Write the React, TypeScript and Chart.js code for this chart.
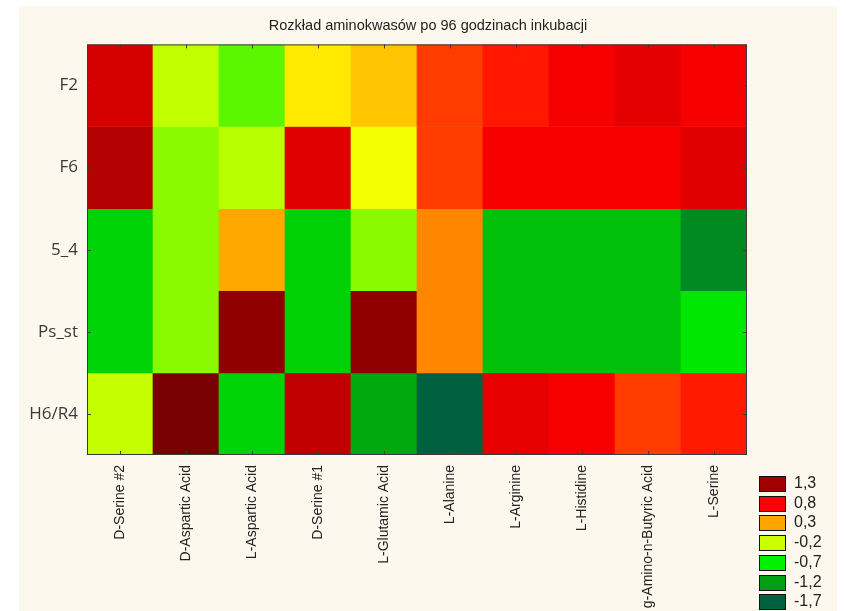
import React, { useEffect, useRef } from "react";
import { Chart, registerables } from "chart.js";

Chart.register(...registerables);

const TITLE = "Rozkład aminokwasów po 96 godzinach inkubacji";

const columns = [
  "D-Serine #2",
  "D-Aspartic Acid",
  "L-Aspartic Acid",
  "D-Serine #1",
  "L-Glutamic Acid",
  "L-Alanine",
  "L-Arginine",
  "L-Histidine",
  "g-Amino-n-Butyric Acid",
  "L-Serine",
];

const rows = ["F2", "F6", "5_4", "Ps_st", "H6/R4"];

const valuesF2 = [1.02, -0.23, -0.48, 0.11, 0.21, 0.62, 0.73, 0.84, 0.94, 0.84];
const valuesF6 = [1.19, -0.36, -0.25, 0.96, -0.02, 0.62, 0.84, 0.84, 0.84, 0.96];
const values5_4 = [-0.88, -0.36, 0.29, -0.9, -0.36, 0.39, -1.0, -1.0, -1.0, -1.37];
const valuesPs_st = [-0.88, -0.36, 1.47, -0.9, 1.47, 0.39, -1.0, -1.0, -1.0, -0.75];
const valuesH6R4 = [-0.22, 1.72, -0.88, 1.13, -1.14, -1.7, 0.92, 0.84, 0.62, 0.72];

const rowValues = [valuesF2, valuesF6, values5_4, valuesPs_st, valuesH6R4];

const legendLevels = [1.3, 0.8, 0.3, -0.2, -0.7, -1.2, -1.7];
const legendLabels = ["1,3", "0,8", "0,3", "-0,2", "-0,7", "-1,2", "-1,7"];

// colour map stops (value -> colour)
const stopValues = [-1.7, -1.2, -0.7, -0.2, 0.05, 0.3, 0.8, 1.3, 1.8];
const stopColors = [
  [0, 96, 64],
  [0, 160, 16],
  [0, 240, 0],
  [204, 255, 0],
  [255, 255, 0],
  [255, 165, 0],
  [255, 0, 0],
  [160, 0, 0],
  [112, 0, 0],
];

function colorFor(v: number): string {
  if (v <= stopValues[0]) return `rgb(${stopColors[0].join(",")})`;
  const n = stopValues.length;
  if (v >= stopValues[n - 1]) return `rgb(${stopColors[n - 1].join(",")})`;
  for (let i = 0; i < n - 1; i++) {
    const a = stopValues[i];
    const b = stopValues[i + 1];
    if (v >= a && v <= b) {
      const t = (v - a) / (b - a);
      const c = stopColors[i].map((c0, k) => Math.round(c0 + (stopColors[i + 1][k] - c0) * t));
      return `rgb(${c.join(",")})`;
    }
  }
  return "#000";
}

const framePlugin = {
  id: "heatFrame",
  afterDatasetsDraw(chart: any) {
    const { ctx, chartArea: a, scales } = chart;
    ctx.save();
    ctx.strokeStyle = "#3a3a3a";
    ctx.lineWidth = 1;
    ctx.strokeRect(a.left + 0.5, a.top + 0.5, a.right - a.left - 1, a.bottom - a.top - 1);
    const line = (x1: number, y1: number, x2: number, y2: number) => {
      ctx.beginPath();
      ctx.moveTo(x1, y1);
      ctx.lineTo(x2, y2);
      ctx.stroke();
    };
    columns.forEach((_, i) => {
      const px = Math.round(scales.x.getPixelForValue(i)) + 0.5;
      line(px, a.top, px, a.top + 4);
      line(px, a.bottom, px, a.bottom - 4);
    });
    rows.forEach((_, r) => {
      const py = Math.round(scales.y.getPixelForValue(rows.length - 0.5 - r)) + 0.5;
      line(a.left, py, a.left + 4, py);
      line(a.right, py, a.right - 4, py);
    });
    ctx.restore();
  },
};

export default function App() {
  const canvasRef = useRef<HTMLCanvasElement | null>(null);

  useEffect(() => {
    if (!canvasRef.current) return;
    const n = rows.length;
    const datasets = rows.map((name, r) => ({
      label: name,
      data: columns.map(() => [n - 1 - r, n - r]),
      backgroundColor: rowValues[r].map(colorFor),
      borderWidth: 0,
      barPercentage: 1,
      categoryPercentage: 1,
      grouped: false,
    }));
    const chart = new Chart(canvasRef.current, {
      type: "bar",
      data: { labels: columns, datasets: datasets as any },
      options: {
        animation: false,
        responsive: false,
        layout: { padding: { left: 0, right: 0, top: 0, bottom: 0 } },
        plugins: {
          legend: { display: false },
          tooltip: { enabled: false },
          title: {
            display: true,
            text: TITLE,
            color: "#222",
            font: { family: "'Liberation Sans', Arial, sans-serif", size: 14.5, weight: "normal" as any },
            padding: { top: 11, bottom: 10 },
          },
        },
        scales: {
          x: {
            type: "category",
            offset: true,
            grid: { display: false, drawTicks: false },
            border: { display: false },
            ticks: {
              autoSkip: false,
              maxRotation: 90,
              minRotation: 90,
              padding: 10,
              color: "#222",
              font: { family: "'Liberation Sans', Arial, sans-serif", size: 14 },
            },
            afterFit: (scale: any) => {
              scale.height = 156;
            },
          },
          y: {
            type: "linear",
            min: 0,
            max: rows.length,
            grid: { display: false, drawTicks: false },
            border: { display: false },
            afterBuildTicks: (scale: any) => {
              scale.ticks = rows.map((_, r) => ({ value: rows.length - 0.5 - r }));
            },
            ticks: {
              padding: 9,
              color: "#3a3a3a",
              font: { family: "'Open Sans', sans-serif", size: 17 },
              callback: (value: any) => {
                const idx = Math.round(rows.length - 0.5 - Number(value));
                return rows[idx] ?? "";
              },
            },
            afterFit: (scale: any) => {
              scale.width = 68;
            },
          },
          yRightSpace: {
            type: "linear",
            position: "right",
            display: true,
            min: 0,
            max: rows.length,
            grid: { display: false, drawTicks: false },
            border: { display: false },
            ticks: { display: false },
            afterFit: (scale: any) => {
              scale.width = 90;
            },
          },
        },
      },
      plugins: [framePlugin],
    });
    return () => chart.destroy();
  }, []);

  return (
    <div style={{ position: "absolute", left: 0, top: 0, width: 846, height: 611, background: "#ffffff", overflow: "hidden" }}>
      <div style={{ position: "absolute", left: 19, top: 6, width: 818, height: 605, background: "#fdf8ee" }}>
        <canvas ref={canvasRef} width={818} height={605} style={{ display: "block" }} />
      </div>
      {legendLevels.map((lv, i) => (
        <div key={i}>
          <div
            style={{
              position: "absolute",
              left: 759,
              top: 476 + i * 19.7,
              width: 25,
              height: 14,
              background: colorFor(lv),
              border: "1px solid #111",
            }}
          />
          <div
            style={{
              position: "absolute",
              left: 794,
              top: 476 + i * 19.7 - 2,
              height: 18,
              lineHeight: "18px",
              fontFamily: "'Liberation Sans', Arial, sans-serif",
              fontSize: 16,
              color: "#222",
            }}
          >
            {legendLabels[i]}
          </div>
        </div>
      ))}
    </div>
  );
}
